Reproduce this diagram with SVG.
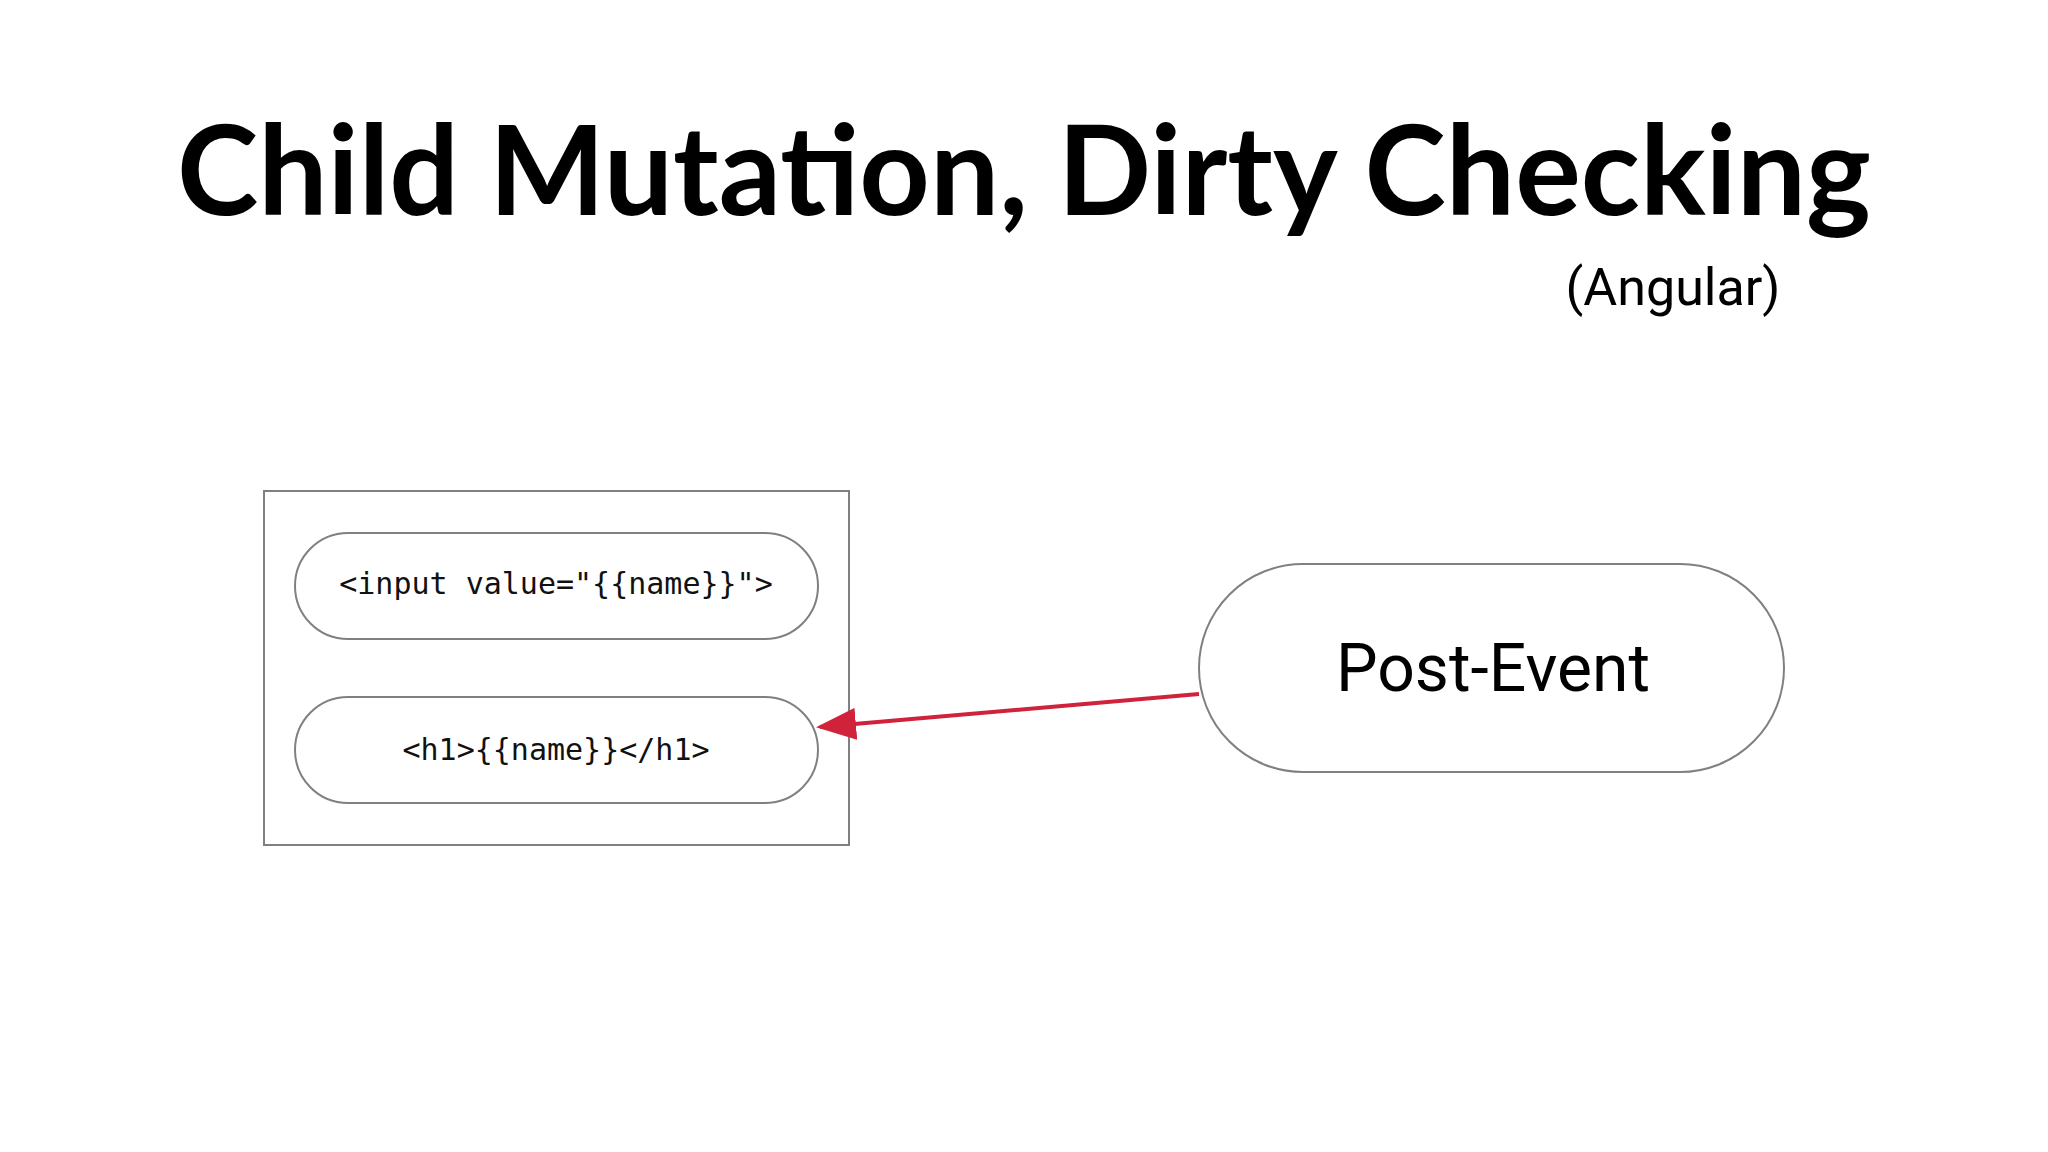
<svg xmlns="http://www.w3.org/2000/svg" width="2048" height="1152" viewBox="0 0 2048 1152">
<style>
.pill{fill:#fff;stroke:#808080;stroke-width:2}
.code{font-family:"DejaVu Sans Mono","Liberation Mono",monospace;font-size:30px;fill:#111;text-anchor:middle}
</style>
<defs><marker id="ah" markerWidth="10" markerHeight="8" refX="9" refY="4" orient="auto" markerUnits="strokeWidth"><path d="M0,0 L10,4 L0,8 z" fill="#d0223a"/></marker></defs>
<rect width="2048" height="1152" fill="#fff"/>
<text x="1024" y="215" font-family="Lato,'Liberation Sans',sans-serif" font-weight="bold" font-size="124" text-anchor="middle" fill="#000" textLength="1694" lengthAdjust="spacingAndGlyphs">Child Mutation, Dirty Checking</text>
<text x="1673" y="305" font-family="Roboto,'Liberation Sans',sans-serif" font-size="52" text-anchor="middle" fill="#000">(Angular)</text>
<g id="container"><rect x="264" y="491" width="585" height="354" fill="none" stroke="#808080" stroke-width="2"/></g>
<g id="input"><rect class="pill" x="295" y="533" width="523" height="106" rx="53"/><text class="code" x="556" y="594">&lt;input value="{{name}}"&gt;</text></g>
<g id="h1"><rect class="pill" x="295" y="697" width="523" height="106" rx="53"/><text class="code" x="556" y="760">&lt;h1&gt;{{name}}&lt;/h1&gt;</text></g>
<g id="post"><rect class="pill" x="1199" y="564" width="585" height="208" rx="104"/><text x="1493" y="691" font-family="Roboto,'Liberation Sans',sans-serif" font-size="66" text-anchor="middle" fill="#000">Post-Event</text></g>
<g id="connectors"><line x1="1199" y1="694" x2="820" y2="727" stroke="#d0223a" stroke-width="4" marker-end="url(#ah)"/></g>
</svg>
